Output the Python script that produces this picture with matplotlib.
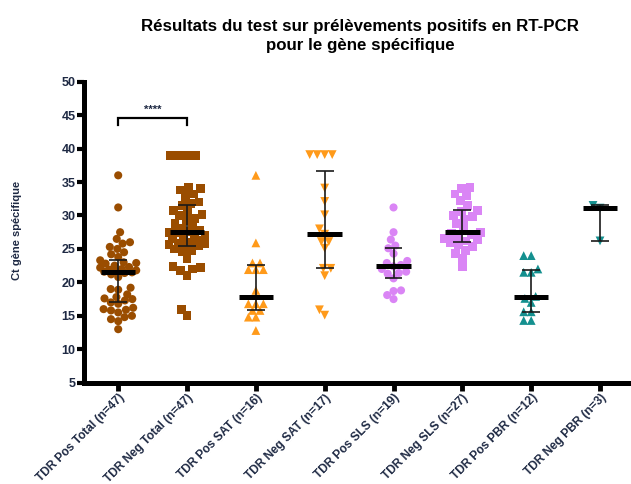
import numpy as np
import matplotlib.pyplot as plt

plt.rcParams['font.family'] = ['Liberation Sans', 'DejaVu Sans']

# Ct values
groups = ["TDR Pos Total (n=47)", "TDR Neg Total (n=47)", "TDR Pos SAT (n=16)",
          "TDR Neg SAT (n=17)", "TDR Pos SLS (n=19)", "TDR Neg SLS (n=27)",
          "TDR Pos PBR (n=12)", "TDR Neg PBR (n=3)"]

pos_total = [36.0, 31.2, 27.5, 26.5, 26.0, 25.8, 25.3, 25.0, 24.5, 24.2, 23.8, 23.3,
             23.0, 22.9, 22.8, 22.5, 22.3, 22.2, 22.0, 21.9, 21.8, 21.7, 21.6, 21.5,
             21.4, 21.2, 20.8, 19.2, 19.0, 18.9, 18.2, 17.8, 17.6, 17.5, 17.3, 17.0,
             16.8, 16.2, 16.0, 15.9, 15.8, 15.5, 15.0, 14.8, 14.5, 14.2, 13.0]
neg_total = [39.0, 39.0, 39.0, 39.0, 34.2, 34.0, 33.8, 33.2, 32.8, 32.0, 31.8, 31.5,
             30.8, 30.5, 30.2, 30.0, 29.6, 29.2, 28.8, 28.3, 28.0, 27.8, 27.6, 27.5,
             27.4, 27.2, 27.0, 26.8, 26.5, 26.3, 26.0, 25.9, 25.8, 25.7, 25.6, 25.5,
             25.0, 24.8, 24.6, 23.5, 22.4, 22.2, 22.0, 21.8, 21.0, 16.0, 15.0]
pos_sat = [36.0, 25.9, 22.9, 22.9, 21.9, 21.9, 21.9, 18.8, 16.8, 16.8, 16.8, 15.8,
           15.8, 14.8, 14.8, 12.8]
neg_sat = [39.1, 39.1, 39.1, 39.1, 34.1, 32.1, 30.1, 28.0, 27.2, 26.1, 26.1, 25.1,
           22.1, 22.1, 21.0, 15.9, 15.1]
pos_sls = [31.2, 27.5, 26.4, 25.5, 25.1, 24.3, 23.2, 22.9, 22.6, 22.4, 22.0, 21.6,
           21.4, 21.3, 20.6, 18.8, 18.7, 18.1, 17.5]
neg_sls = [34.2, 34.0, 33.2, 33.0, 32.2, 31.5, 30.8, 30.6, 30.0, 29.8, 29.4, 28.8,
           28.0, 27.5, 27.3, 27.1, 26.9, 26.6, 26.4, 26.2, 26.0, 25.6, 25.4, 24.8,
           24.3, 23.6, 22.3]
pos_pbr = [24.0, 24.0, 22.0, 21.5, 21.5, 17.9, 17.6, 17.0, 15.6, 15.6, 14.3, 14.3]
neg_pbr = [31.5, 31.1, 26.2]

series = [pos_total, neg_total, pos_sat, neg_sat, pos_sls, neg_sls, pos_pbr, neg_pbr]
colors = ['#9A4D00', '#9A4D00', '#FF9A1A', '#FF9A1A', '#DA85F5', '#DA85F5',
          '#14908F', '#14908F']
markers = ['o', 's', '^', 'v', 'o', 's', '^', 'v']

PX_X = 68.8   # pixels per category unit
PX_Y = 6.7    # pixels per Ct unit


def swarm(vals, d, maxw):
    # simple beeswarm in pixel space, returns x offsets in category units
    ys = np.asarray(vals) * PX_Y
    order = np.argsort(ys)
    xs = np.zeros(len(ys))
    placed = []
    for i in order:
        y = ys[i]
        cands = [0.0]
        for px, py in placed:
            dy = abs(y - py)
            if dy < d:
                dx = np.sqrt(d * d - dy * dy)
                cands += [px + dx, px - dx]
        cands.sort(key=lambda c: (abs(c), c))
        best = None
        for c in cands:
            if abs(c) > maxw:
                continue
            if all((c - px) ** 2 + (y - py) ** 2 >= d * d - 1e-6 for px, py in placed):
                best = c
                break
        if best is None:
            grid = np.linspace(-maxw, maxw, 21)
            score = [min((g - px) ** 2 + (y - py) ** 2 for px, py in placed) for g in grid]
            best = grid[int(np.argmax(score))]
        xs[i] = best
        placed.append((best, y))
    return xs / PX_X


fig = plt.figure(figsize=(6.31, 4.84), dpi=100)
ax = fig.add_axes([84 / 631, 0.2093, 547 / 631, 0.6219])
ax.set_xlim(-0.497, 7.45)
ax.set_ylim(5, 50)

sizes = {'o': 34, 's': 40, '^': 40, 'v': 40}
for i, vals in enumerate(series):
    d = 8.5 if markers[i] == 's' else 7.5
    off = swarm(vals, d, 18)
    ax.scatter(i + off, vals, s=sizes[markers[i]], marker=markers[i],
               color=colors[i], edgecolors='none', zorder=2, clip_on=False)
    q1, med, q3 = np.percentile(vals, [25, 50, 75], method='weibull')
    ax.vlines(i, q1, q3, color='#1a1a1a', lw=1.2, zorder=3)
    ax.hlines([q1, q3], i - 0.13, i + 0.13, color='#1a1a1a', lw=1.2, zorder=3)
    ax.hlines(med, i - 0.25, i + 0.25, color='black', lw=3.6, zorder=4)

# significance bracket
ax.plot([0, 0, 1, 1], [43.6, 44.6, 44.6, 43.6], color='black', lw=1.6,
        solid_joinstyle='miter', zorder=3)
ax.text(0.5, 45.0, '****', ha='center', va='bottom', fontsize=8, fontweight='bold',
        color='#1f2a44')

for s in ['top', 'right']:
    ax.spines[s].set_visible(False)
for s in ['left', 'bottom']:
    ax.spines[s].set_linewidth(3.6)
    ax.spines[s].set_color('black')

ax.set_yticks(np.arange(5, 51, 5))
ax.set_xticks(range(len(groups)))
ax.set_xticklabels(groups, rotation=45, ha='right', rotation_mode='anchor')
ax.tick_params(axis='y', length=5, width=3, pad=1, labelsize=9, labelcolor='#1f2a44')
ax.tick_params(axis='x', length=6, width=3.5, pad=0.5, labelsize=8.6, labelcolor='#1f2a44')
for lab in ax.get_xticklabels() + ax.get_yticklabels():
    lab.set_fontweight('bold')

fig.text(0.0275, 0.523, 'Ct gène spécifique', rotation=90, ha='center', va='center',
         fontsize=8, fontweight='bold', color='#1f2a44')
fig.text(0.571, 0.925, 'Résultats du test sur prélèvements positifs en RT-PCR\npour le gène spécifique',
         ha='center', va='center', fontsize=12.2, fontweight='bold', linespacing=1.3)

fig.savefig('out.png', dpi=100)
